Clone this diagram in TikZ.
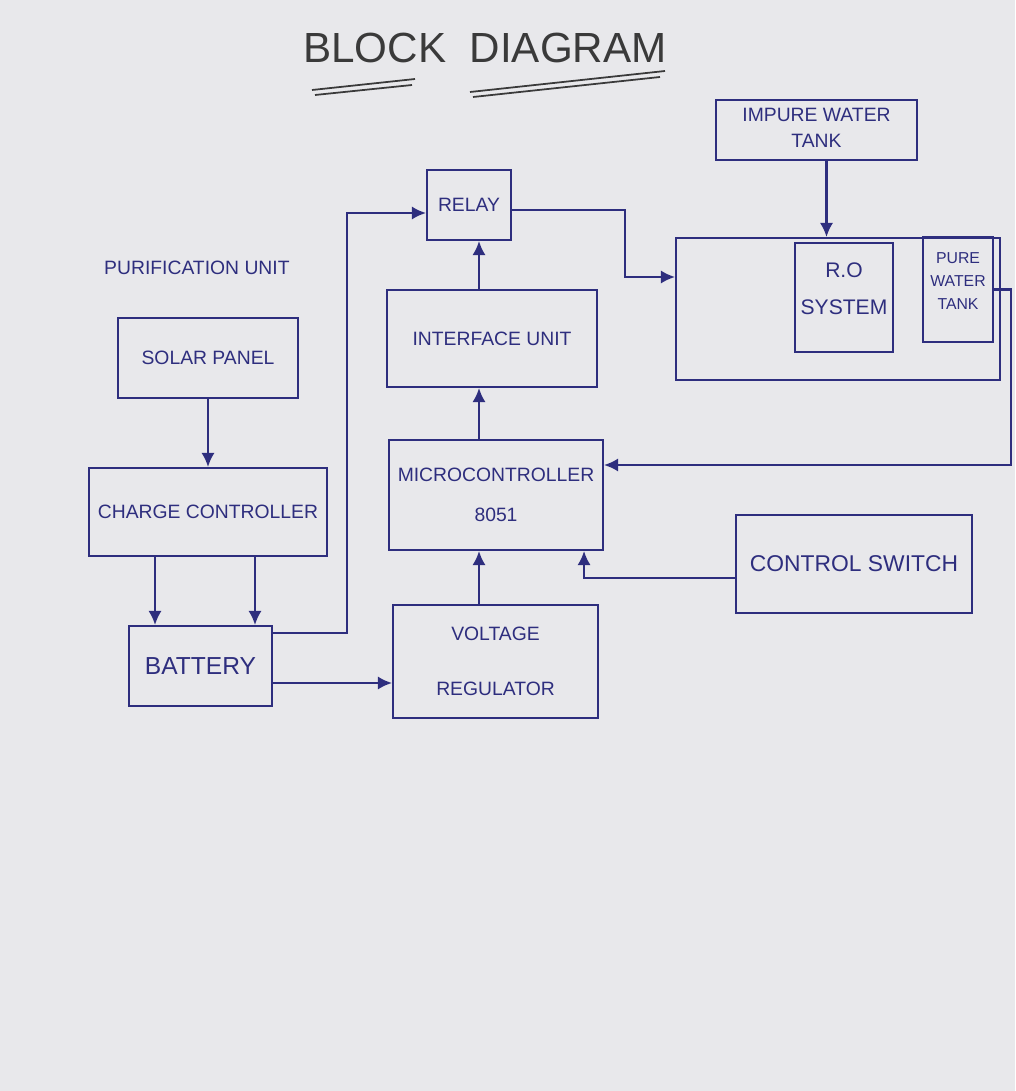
\documentclass[tikz,border=0pt]{standalone}
\usepackage{fontspec}
\setmainfont{Liberation Sans}
\usepackage{tikz}
\usetikzlibrary{arrows, arrows.meta, calc}

\definecolor{ink}{HTML}{2E2E7E}
\definecolor{paper}{HTML}{E8E8EB}
\definecolor{pencil}{HTML}{3A3A3A}

\begin{document}
\begin{tikzpicture}[x=0.02cm, y=-0.02cm,
    blk/.style={draw=ink, line width=1.2pt, text=ink, align=center, inner sep=0pt,
        font=\fontsize{11}{13}\selectfont},
    wire/.style={draw=ink, line width=1.2pt, -{Latex[length=8pt, width=7.5pt]}}]

\fill[paper] (0,0) rectangle (1015,1091);
\useasboundingbox (0,0) rectangle (1015,1091);

%% title
\node[text=pencil, font=\fontsize{24}{28}\selectfont] (title) at (485,48) {BLOCK\ \ DIAGRAM};
\draw[pencil, line width=1pt] (312,90) -- (415,79) (315,95) -- (412,85);
\draw[pencil, line width=1pt] (470,92) -- (665,71) (473,97) -- (660,77);

\node[text=ink, anchor=west, font=\fontsize{11}{13}\selectfont] (purlbl) at (98,268) {PURIFICATION UNIT};

%% left column
\node[blk, minimum width=3.6cm, minimum height=1.6cm] (solar) at (208,358) {SOLAR PANEL};
\node[blk, minimum width=4.76cm, minimum height=1.76cm] (charge) at (208,512) {CHARGE CONTROLLER};
\node[blk, minimum width=2.86cm, minimum height=1.6cm, font=\fontsize{14}{16}\selectfont] (battery) at (200.5,666) {BATTERY};

%% middle column
\node[blk, minimum width=1.68cm, minimum height=1.4cm] (relay) at (469,205) {RELAY};
\node[blk, minimum width=4.2cm, minimum height=1.94cm] (interface) at (492,338.5) {INTERFACE UNIT};
\node[blk, minimum width=4.28cm, minimum height=2.2cm] (micro) at (496,495) {MICROCONTROLLER\\[10pt]8051};
\node[blk, minimum width=4.1cm, minimum height=2.26cm] (regulator) at (495.5,661.5) {VOLTAGE\\[18pt]REGULATOR};

%% right column
\node[blk, minimum width=4.02cm, minimum height=1.2cm] (impure) at (816.5,130) {};
\node[text=ink, align=center, font=\fontsize{11}{13}\selectfont] (impuretxt) at (816.5,128) {IMPURE WATER\\[2pt]TANK};
\node[blk, minimum width=6.48cm, minimum height=2.84cm] (rounit) at (838,309) {};
\node[blk, minimum width=1.96cm, minimum height=2.18cm] (ro) at (844,297.5) {};
\node[text=ink, align=center, font=\fontsize{12}{14}\selectfont] (rotxt) at (844,289) {R.O\\[7pt]SYSTEM};
\node[blk, minimum width=1.4cm, minimum height=2.1cm] (pure) at (958,289.5) {};
\node[text=ink, align=center, font=\fontsize{9}{11}\selectfont] (puretxt) at (958,281) {PURE\\[2pt]WATER\\[2pt]TANK};
\node[blk, minimum width=4.72cm, minimum height=1.96cm, font=\fontsize{13}{15}\selectfont] (switch) at (854,564) {CONTROL SWITCH};

%% power path
\draw[wire] (solar) -- (charge);
\draw[wire] ([xshift=-1.06cm]charge.south) -- ([xshift=-1.06cm]charge.south |- battery.north);
\draw[wire] ([xshift=0.94cm]charge.south) -- ([xshift=0.94cm]charge.south |- battery.north);
\draw[wire] ([yshift=-0.34cm]battery.east) -- ([yshift=-0.34cm]battery.east -| regulator.west);
\draw[wire] ([yshift=-0.16cm]battery.north east) -- ++(74,0) |- ([yshift=-0.16cm]relay.west);

%% control path
\draw[wire] ([xshift=-0.33cm]regulator.north) -- ([xshift=-0.33cm]regulator.north |- micro.south);
\draw[wire] ([xshift=-0.34cm]micro.north) -- ([xshift=-0.34cm]micro.north |- interface.south);
\draw[wire] ([xshift=0.2cm]relay.south |- interface.north) -- ([xshift=0.2cm]relay.south);
\draw[wire] ([yshift=-0.28cm]switch.west) -| ($(micro.south east)+(-20,0)$);

%% water path
\draw[wire] ([xshift=0.2cm]impure.south) -- ([xshift=0.2cm]impure.south |- rounit.north);
\draw[wire] ([yshift=-0.1cm]relay.east) -- ++(113,0) |- ($(rounit.west)+(0,-32)$);
\draw[wire] (pure.east) -- ++(17,0) |- ($(micro.east)+(0,-30)$);

\end{tikzpicture}
\end{document}
